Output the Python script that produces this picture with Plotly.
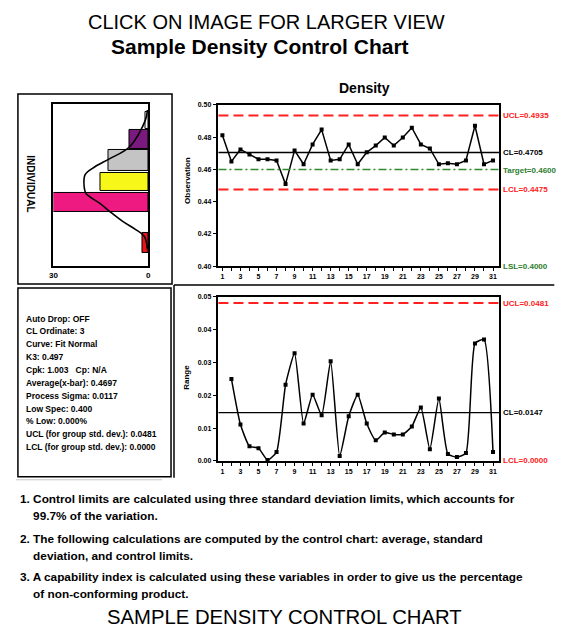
import plotly.graph_objects as go

# ---------------- data ----------------
samples = list(range(1, 32))
density = [0.4812, 0.4650, 0.4724, 0.4693, 0.4663, 0.4663, 0.4656, 0.4509, 0.4718, 0.4632,
           0.4755, 0.4847, 0.4656, 0.4663, 0.4755, 0.4632, 0.4706, 0.4748, 0.4798, 0.4748,
           0.4798, 0.4859, 0.4755, 0.4730, 0.4632, 0.4638, 0.4632, 0.4656, 0.4871, 0.4632,
           0.4656]
range_samples = list(range(2, 32))
moving_range = [0.0250, 0.0111, 0.0045, 0.0039, 0.0003, 0.0027, 0.0232, 0.0328, 0.0114, 0.0202,
                0.0139, 0.0304, 0.0015, 0.0136, 0.0202, 0.0114, 0.0063, 0.0087, 0.0081, 0.0081,
                0.0105, 0.0163, 0.0036, 0.0190, 0.0021, 0.0012, 0.0024, 0.0358, 0.0370, 0.0027]

ind_ucl, ind_cl, ind_target, ind_lcl, ind_lsl = 0.4935, 0.4705, 0.4600, 0.4475, 0.4000
mr_ucl, mr_cl, mr_lcl = 0.0481, 0.0147, 0.0000

ind_ticks = [0.40, 0.42, 0.44, 0.46, 0.48, 0.50]
mr_ticks = [0.00, 0.01, 0.02, 0.03, 0.04, 0.05]

# histogram (bin edges in density units, counts)
bin_low = [0.4847, 0.4720, 0.4589, 0.4466, 0.4337, 0.4080]
bin_high = [0.4951, 0.4842, 0.4718, 0.4577, 0.4454, 0.4202]
bin_count = [1.0, 6.0, 12.5, 15.0, 30.0, 2.0]
bin_colors = ["#FFFFFF", "#7A1A7E", "#C4C4C4", "#F7F71A", "#EE1A82", "#E8141C"]

curve_value = [0.4963, 0.4902, 0.4736, 0.4663, 0.4613, 0.4564, 0.4491, 0.4448, 0.4387,
               0.4337, 0.4276, 0.4227, 0.4184, 0.4104]
curve_count = [0.3, 0.9, 5.9, 12.2, 16.9, 20.0, 20.3, 19.7, 15.3, 12.2, 8.1, 4.1, 1.25, 0.3]

info_lines = ["Auto Drop: OFF", "CL Ordinate: 3", "Curve: Fit Normal", "K3: 0.497",
              "Cpk: 1.003   Cp: N/A", "Average(x-bar): 0.4697", "Process Sigma: 0.0117",
              "Low Spec: 0.400", "% Low: 0.000%", "UCL (for group std. dev.): 0.0481",
              "LCL (for group std. dev.): 0.0000"]

notes = ["1. Control limits are calculated using three standard deviation limits, which accounts for",
         "    99.7% of the variation.",
         "2. The following calculations are computed by the control chart: average, standard",
         "    deviation, and control limits.",
         "3. A capability index is calculated using these variables in order to give us the percentage",
         "    of non-conforming product."]

# ---------------- figure ----------------
W, H = 572, 634
OFF = 8  # default page margin of the html body
FONT = "Liberation Sans"


def px(x):
    return (x - OFF) / W


def py(y):
    return 1 - (y - OFF) / H


fig = go.Figure()

# histogram bars
centers = [(lo + hi) / 2 for lo, hi in zip(bin_low, bin_high)]
widths = [hi - lo for lo, hi in zip(bin_low, bin_high)]
fig.add_trace(go.Bar(orientation="h", y=centers, x=bin_count, width=widths, base=0,
                     marker=dict(color=bin_colors, line=dict(color="black", width=1)),
                     xaxis="x3", yaxis="y3", hoverinfo="skip"))
fig.add_trace(go.Scatter(x=curve_count, y=curve_value, mode="lines", line_shape="spline",
                         line=dict(color="black", width=1.6), xaxis="x3", yaxis="y3"))

# individuals chart
fig.add_trace(go.Scatter(x=samples, y=density, mode="lines+markers",
                         line=dict(color="black", width=1.5),
                         marker=dict(symbol="square", size=4, color="black"),
                         xaxis="x", yaxis="y"))

# moving range chart
fig.add_trace(go.Scatter(x=range_samples, y=moving_range, mode="lines+markers",
                         line=dict(color="black", width=1.5, shape="spline", smoothing=0.5),
                         marker=dict(symbol="square", size=4, color="black"),
                         xaxis="x2", yaxis="y2"))

tickfont = dict(family=FONT, size=7, color="black", weight="bold")
xticktext = [str(s) if s % 2 == 1 else "" for s in samples]
common_x = dict(domain=[px(217), px(501)], range=[0.56, 31.66], tickvals=samples, ticktext=xticktext,
                ticks="outside", ticklen=3, tickwidth=1, tickcolor="black", showline=True,
                mirror=True, linecolor="black", linewidth=1.5, showgrid=False, zeroline=False,
                tickfont=tickfont)
fig.update_layout(
    width=W, height=H, margin=dict(l=0, r=0, t=0, b=0),
    paper_bgcolor="white", plot_bgcolor="white", showlegend=False,
    bargap=0,
    xaxis=dict(anchor="y", **common_x),
    yaxis=dict(domain=[py(265), py(102)], range=[0.40, 0.50], tickvals=ind_ticks,
               tickformat=".2f", ticks="outside", ticklen=4, tickcolor="black",
               showline=True, mirror=True, linecolor="black", linewidth=1.5,
               showgrid=False, zeroline=False, tickfont=tickfont, anchor="x"),
    xaxis2=dict(anchor="y2", **common_x),
    yaxis2=dict(domain=[py(462), py(296)], range=[0, 0.05], tickvals=mr_ticks,
                tickformat=".2f", ticks="outside", ticklen=4, tickcolor="black",
                showline=True, mirror=True, linecolor="black", linewidth=1.5,
                showgrid=False, zeroline=False, tickfont=tickfont, anchor="x2"),
    xaxis3=dict(domain=[px(50), px(146)], range=[30, 0], tickvals=[30, 0], ticktext=["30", "0"],
                ticks="", showline=True, mirror=True, linecolor="black", linewidth=1.5,
                showgrid=False, zeroline=False, anchor="y3",
                tickfont=dict(family=FONT, size=8, color="black", weight="bold")),
    yaxis3=dict(domain=[py(265), py(101)], range=[0.40, 0.50], showticklabels=False, ticks="",
                showline=True, mirror=True, linecolor="black", linewidth=1.5,
                showgrid=False, zeroline=False, anchor="x3"),
)

shapes = []
# limit lines - individuals
for val, col, dash, w in [(ind_ucl, "#FF2020", "10px,5px", 2), (ind_lcl, "#FF2020", "10px,5px", 2),
                          (ind_cl, "black", "solid", 1.3), (ind_target, "#2E8B2E", "8px,3px,2px,3px", 1.6)]:
    shapes.append(dict(type="line", xref="x domain", yref="y", x0=0, x1=1, y0=val, y1=val,
                       line=dict(color=col, width=w, dash=dash)))
for val, col, dash, w in [(mr_ucl, "#FF2020", "10px,5px", 2), (mr_cl, "black", "solid", 1.3)]:
    shapes.append(dict(type="line", xref="x2 domain", yref="y2", x0=0, x1=1, y0=val, y1=val,
                       line=dict(color=col, width=w, dash=dash)))


def rect(x0, y0, x1, y1, color="black", width=1.5):
    shapes.append(dict(type="rect", xref="paper", yref="paper", x0=px(x0), x1=px(x1),
                       y0=py(y1), y1=py(y0), line=dict(color=color, width=width)))


def line(x0, y0, x1, y1, color="black", width=1.5):
    shapes.append(dict(type="line", xref="paper", yref="paper", x0=px(x0), x1=px(x1),
                       y0=py(y0), y1=py(y1), line=dict(color=color, width=width)))


rect(14, 91, 170, 283)
rect(14, 287, 169, 478)
line(172, 284, 557, 284)
line(172, 284, 172, 479)
line(12, 481, 160, 481, color="#C8C8C8", width=1)
fig.update_layout(shapes=shapes)

ann = []


def text(x, y, s, size, bold=True, color="black", xanchor="center", yref="paper", angle=0, family=FONT):
    ann.append(dict(x=px(x), y=(py(y) if yref == "paper" else y), xref="paper", yref=yref,
                    text=s, showarrow=False, xanchor=xanchor, yanchor="middle", textangle=angle,
                    font=dict(family=family, size=size, color=color,
                              weight="bold" if bold else "normal")))


text(266, 18, "CLICK ON IMAGE FOR LARGER VIEW", 20, bold=False)
text(259, 43, "Sample Density Control Chart", 21)
text(365, 85, "Density", 14)
text(284, 620, "SAMPLE DENSITY CONTROL CHART", 20.3, bold=False)

# right-hand limit labels
lab = 8
text(503, ind_ucl, f"UCL={ind_ucl:.4f}", lab, color="#FF2020", xanchor="left", yref="y")
text(503, ind_cl + 0.0003, f"CL={ind_cl:.4f}", lab, color="black", xanchor="left", yref="y")
text(503, ind_target - 0.0008, f"Target={ind_target:.4f}", lab, color="#2E7D2E", xanchor="left", yref="y")
text(503, ind_lcl, f"LCL={ind_lcl:.4f}", lab, color="#FF2020", xanchor="left", yref="y")
text(503, ind_lsl, f"LSL={ind_lsl:.4f}", lab, color="#2E7D2E", xanchor="left", yref="y")
text(503, mr_ucl, f"UCL={mr_ucl:.4f}", lab, color="#FF2020", xanchor="left", yref="y2")
text(503, mr_cl, f"CL={mr_cl:.4f}", lab, color="black", xanchor="left", yref="y2")
text(503, mr_lcl, f"LCL={mr_lcl:.4f}", lab, color="#FF2020", xanchor="left", yref="y2")

# axis titles
text(185, 178, "Observation", 8, angle=-90)
text(185, 377, "Range", 8, angle=-90)
text(27, 182, "INDIVIDUAL", 10, angle=90)

# info box
for i, s in enumerate(info_lines):
    text(20, 318 + i * 13, s, 8.5, xanchor="left")

# notes
for s, y in zip(notes, [500, 518, 541, 558, 579, 597]):
    text(14, y, s, 11.8, xanchor="left")

fig.update_layout(annotations=ann)
fig.write_html("out.html")
